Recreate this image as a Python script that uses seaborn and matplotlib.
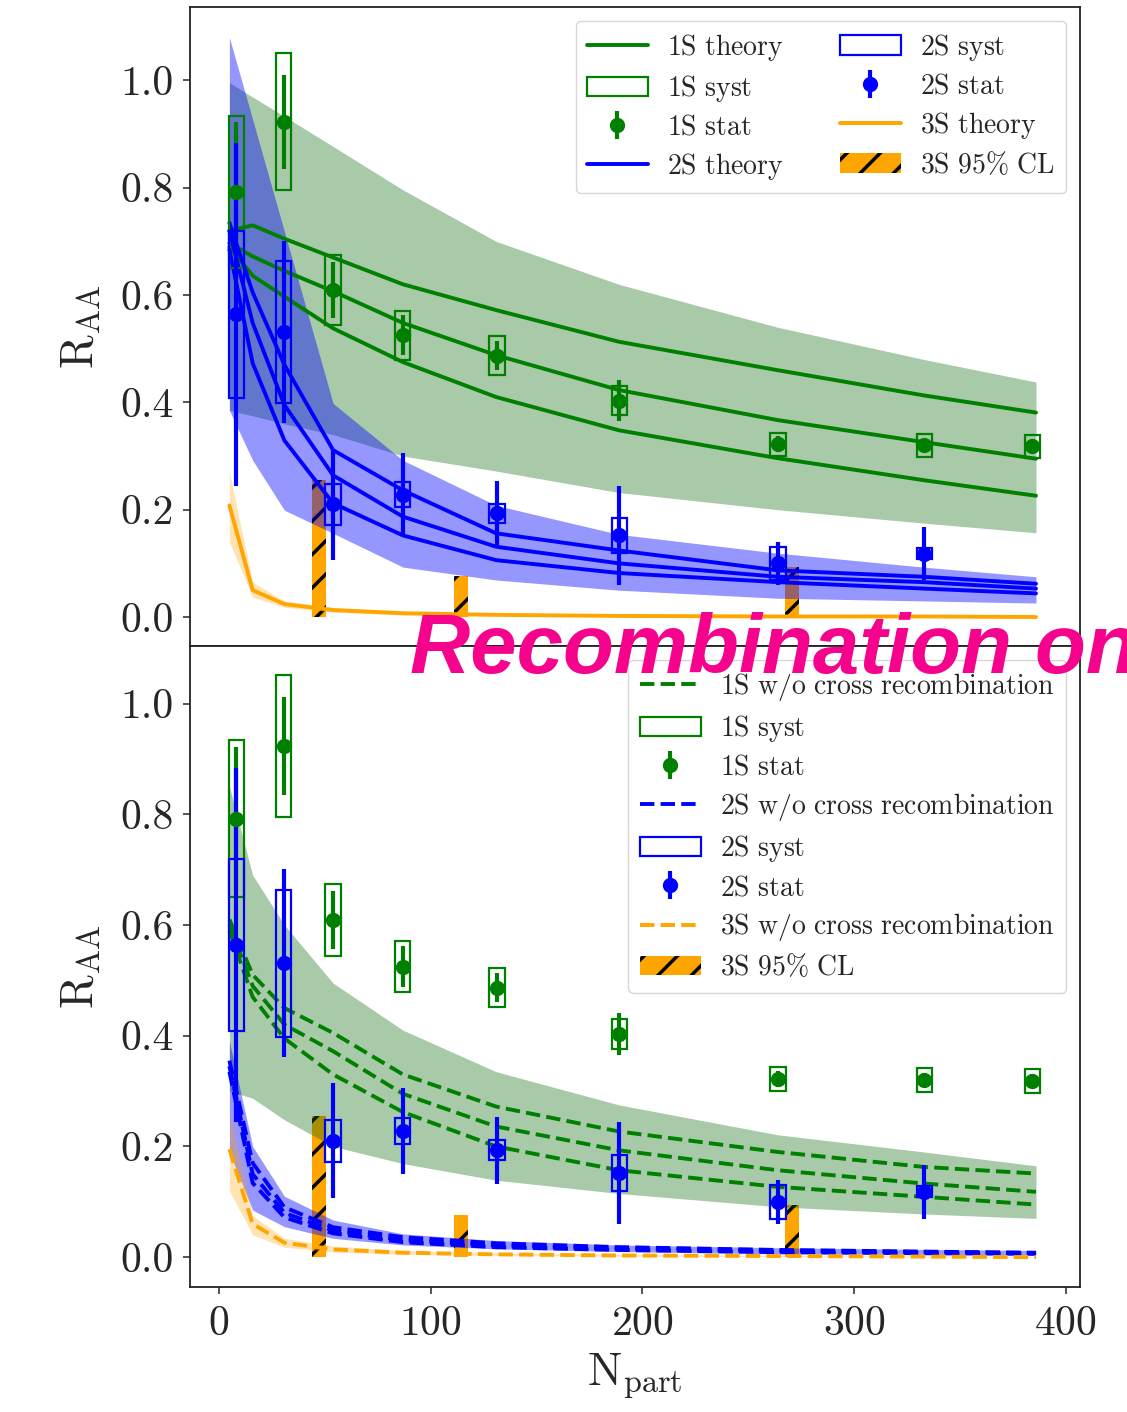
import numpy as np
import matplotlib
matplotlib.use("Agg")
import matplotlib.pyplot as plt
import seaborn as sns
from matplotlib.ticker import FormatStrFormatter, MultipleLocator
from matplotlib.lines import Line2D

sns.set_theme(style="ticks")
plt.rcParams["font.family"] = ["cmr10", "DejaVu Serif"]
plt.rcParams["mathtext.fontset"] = "cm"
plt.rcParams["axes.formatter.use_mathtext"] = True
plt.rcParams["hatch.linewidth"] = 2.5
plt.rcParams["axes.linewidth"] = 1.3
plt.rcParams["axes.edgecolor"] = "#222222"

# ---- measured nuclear modification factors -------------------------------
npart = [8.3, 30.6, 53.9, 86.9, 131.4, 189.2, 264.2, 333.3, 384.3]
raa_1s = [0.792, 0.923, 0.609, 0.525, 0.487, 0.403, 0.322, 0.320, 0.318]
stat_1s = [0.130, 0.088, 0.052, 0.037, 0.027, 0.038, 0.015, 0.012, 0.012]
syst_1s = [0.142, 0.128, 0.065, 0.046, 0.036, 0.027, 0.021, 0.022, 0.022]

npart_2s = [8.3, 30.6, 53.9, 86.9, 131.4, 189.2, 264.2, 333.3]
raa_2s = [0.564, 0.531, 0.210, 0.228, 0.193, 0.152, 0.100, 0.118]
stat_2s = [0.320, 0.170, 0.104, 0.077, 0.060, 0.092, 0.040, 0.049]
syst_2s = [0.155, 0.133, 0.038, 0.023, 0.018, 0.032, 0.031, 0.010]

# 3S upper limits (95% CL)
npart_3s = [47.3, 114.3, 270.6]
cl_3s = [0.255, 0.076, 0.094]

# ---- theory grid ----------------------------------------------------------
th_x = [5, 16, 31, 54, 87, 131, 189, 264, 333, 386]

# with cross recombination
th1s_a = [0.720, 0.730, 0.705, 0.670, 0.620, 0.572, 0.513, 0.460, 0.413, 0.381]
th1s_b = [0.697, 0.672, 0.645, 0.607, 0.548, 0.488, 0.423, 0.367, 0.326, 0.295]
th1s_c = [0.690, 0.636, 0.597, 0.538, 0.475, 0.410, 0.348, 0.296, 0.255, 0.226]
band1s_hi = [0.996, 0.969, 0.933, 0.877, 0.796, 0.700, 0.620, 0.540, 0.480, 0.438]
band1s_lo = [0.385, 0.375, 0.360, 0.340, 0.300, 0.272, 0.232, 0.200, 0.175, 0.157]

th2s_a = [0.735, 0.605, 0.470, 0.311, 0.236, 0.156, 0.124, 0.087, 0.075, 0.062]
th2s_b = [0.720, 0.548, 0.395, 0.264, 0.187, 0.131, 0.100, 0.075, 0.065, 0.053]
th2s_c = [0.685, 0.473, 0.329, 0.212, 0.152, 0.106, 0.082, 0.065, 0.053, 0.044]
band2s_hi = [1.080, 0.927, 0.718, 0.398, 0.292, 0.208, 0.154, 0.119, 0.093, 0.075]
band2s_lo = [0.385, 0.292, 0.199, 0.156, 0.093, 0.069, 0.050, 0.035, 0.030, 0.026]

th3s = [0.208, 0.050, 0.024, 0.013, 0.007, 0.004, 0.002, 0.001, 0.001, 0.000]
band3s_hi = [0.270, 0.065, 0.030, 0.018, 0.010, 0.006, 0.004, 0.002, 0.002, 0.001]
band3s_lo = [0.140, 0.037, 0.018, 0.009, 0.004, 0.002, 0.001, 0.000, 0.000, 0.000]

# without cross recombination
nc1s_a = [0.610, 0.510, 0.450, 0.405, 0.330, 0.272, 0.227, 0.190, 0.163, 0.151]
nc1s_b = [0.600, 0.490, 0.420, 0.372, 0.295, 0.236, 0.193, 0.157, 0.133, 0.118]
nc1s_c = [0.590, 0.470, 0.395, 0.330, 0.262, 0.200, 0.157, 0.127, 0.109, 0.095]
ncband1s_hi = [0.850, 0.690, 0.600, 0.495, 0.410, 0.335, 0.275, 0.221, 0.190, 0.165]
ncband1s_lo = [0.300, 0.287, 0.248, 0.200, 0.169, 0.139, 0.115, 0.091, 0.078, 0.070]

nc2s_a = [0.355, 0.170, 0.090, 0.054, 0.036, 0.025, 0.018, 0.013, 0.010, 0.008]
nc2s_b = [0.345, 0.150, 0.080, 0.048, 0.031, 0.021, 0.015, 0.011, 0.009, 0.007]
nc2s_c = [0.335, 0.134, 0.072, 0.043, 0.027, 0.018, 0.013, 0.009, 0.007, 0.006]
ncband2s_hi = [0.390, 0.200, 0.110, 0.067, 0.042, 0.030, 0.022, 0.017, 0.014, 0.012]
ncband2s_lo = [0.190, 0.085, 0.055, 0.034, 0.022, 0.015, 0.010, 0.006, 0.005, 0.004]

nc3s = [0.195, 0.060, 0.026, 0.014, 0.008, 0.005, 0.003, 0.002, 0.001, 0.000]
ncband3s_hi = [0.265, 0.075, 0.034, 0.020, 0.012, 0.008, 0.005, 0.003, 0.002, 0.001]
ncband3s_lo = [0.120, 0.040, 0.018, 0.009, 0.005, 0.003, 0.002, 0.001, 0.000, 0.000]

GREEN, BLUE, ORANGE = "#008000", "#0000ff", "#ffa500"
GREEN_BAND = "#006400"
LW = 2.8
BOXW = 7.2
LEG_FS = 20
LEG_KW = dict(fontsize=LEG_FS, labelspacing=0.37, handlelength=2.2, handletextpad=0.7)


def draw_data(ax):
    """Upper limits, systematic boxes and statistical error bars."""
    cl = ax.bar(npart_3s, cl_3s, width=6.7, color=ORANGE, edgecolor="black",
                hatch="/", linewidth=0, zorder=1)
    s1 = ax.bar(npart, 2 * np.array(syst_1s), bottom=np.array(raa_1s) - np.array(syst_1s),
                width=BOXW, fill=False, edgecolor=GREEN, linewidth=1.6, zorder=6)
    s2 = ax.bar(npart_2s, 2 * np.array(syst_2s), bottom=np.array(raa_2s) - np.array(syst_2s),
                width=BOXW, fill=False, edgecolor=BLUE, linewidth=1.6, zorder=6)
    e1 = ax.errorbar(npart, raa_1s, yerr=stat_1s, fmt="o", color=GREEN, ms=10,
                     elinewidth=3, capsize=0, zorder=7)
    e2 = ax.errorbar(npart_2s, raa_2s, yerr=stat_2s, fmt="o", color=BLUE, ms=10,
                     elinewidth=3, capsize=0, zorder=7)
    return cl, s1, s2, e1, e2


def draw_theory(ax, curves, lo, hi, color, band_color, alpha, ls):
    ax.fill_between(th_x, lo, hi, color=band_color, alpha=alpha, linewidth=0, zorder=2)
    for c in curves:
        sns.lineplot(x=th_x, y=c, ax=ax, color=color, lw=LW, linestyle=ls,
                     legend=False, zorder=3)


fig = plt.figure(figsize=(11.27, 14.12), dpi=100)
ax1 = fig.add_axes([0.1686, 0.5425, 0.7897, 0.4526])
ax2 = fig.add_axes([0.1686, 0.0885, 0.7897, 0.4540], sharex=ax1)

# ---- upper panel: recombination included ---------------------------------
cl, s1, s2, e1, e2 = draw_data(ax1)
draw_theory(ax1, [th1s_a, th1s_b, th1s_c], band1s_lo, band1s_hi, GREEN, GREEN_BAND, 0.34, "-")
draw_theory(ax1, [th2s_a, th2s_b, th2s_c], band2s_lo, band2s_hi, BLUE, BLUE, 0.41, "-")
draw_theory(ax1, [th3s], band3s_lo, band3s_hi, ORANGE, ORANGE, 0.30, "-")

h = [Line2D([], [], color=GREEN, lw=LW), s1, e1, Line2D([], [], color=BLUE, lw=LW),
     s2, e2, Line2D([], [], color=ORANGE, lw=LW), cl]
lab = [r"$\mathrm{1S\ theory}$", r"$\mathrm{1S\ syst}$", r"$\mathrm{1S\ stat}$",
       r"$\mathrm{2S\ theory}$", r"$\mathrm{2S\ syst}$", r"$\mathrm{2S\ stat}$",
       r"$\mathrm{3S\ theory}$", r"$\mathrm{3S\ 95\%\ CL}$"]
ax1.legend(h, lab, ncol=2, loc="upper right", columnspacing=2.0, **LEG_KW)

# ---- lower panel: without cross recombination ------------------------------
cl, s1, s2, e1, e2 = draw_data(ax2)
draw_theory(ax2, [nc1s_a, nc1s_b, nc1s_c], ncband1s_lo, ncband1s_hi, GREEN, GREEN_BAND, 0.34, "--")
draw_theory(ax2, [nc2s_a, nc2s_b, nc2s_c], ncband2s_lo, ncband2s_hi, BLUE, BLUE, 0.41, "--")
draw_theory(ax2, [nc3s], ncband3s_lo, ncband3s_hi, ORANGE, ORANGE, 0.30, "--")

h = [Line2D([], [], color=GREEN, lw=LW, ls="--"), s1, e1,
     Line2D([], [], color=BLUE, lw=LW, ls="--"), s2, e2,
     Line2D([], [], color=ORANGE, lw=LW, ls="--"), cl]
lab = [r"$\mathrm{1S\ w/o\ cross\ recombination}$", r"$\mathrm{1S\ syst}$",
       r"$\mathrm{1S\ stat}$", r"$\mathrm{2S\ w/o\ cross\ recombination}$",
       r"$\mathrm{2S\ syst}$", r"$\mathrm{2S\ stat}$",
       r"$\mathrm{3S\ w/o\ cross\ recombination}$", r"$\mathrm{3S\ 95\%\ CL}$"]
ax2.legend(h, lab, ncol=1, loc="upper right", **LEG_KW)

# ---- axes cosmetics -------------------------------------------------------
ax1.set_xlim(-13.6, 406.8)
ax1.set_ylim(-0.054, 1.137)
ax2.set_ylim(-0.054, 1.104)
for ax in (ax1, ax2):
    ax.yaxis.set_major_locator(MultipleLocator(0.2))
    ax.yaxis.set_major_formatter(FormatStrFormatter("%.1f"))
    ax.tick_params(axis="y", labelsize=30, length=5, width=1.1, pad=7)
    ax.set_ylabel(r"$\mathrm{R_{AA}}$", fontsize=33, labelpad=12)
    for s in ax.spines.values():
        s.set_visible(True)
ax1.tick_params(axis="x", labelbottom=False, length=0)
ax2.xaxis.set_major_locator(MultipleLocator(100))
ax2.tick_params(axis="x", labelsize=30, length=5, width=1.1, pad=8)
ax2.set_xlabel(r"$\mathrm{N_{part}}$", fontsize=33, labelpad=6)

fig.text(0.3638, 0.5234, "Recombination on", fontsize=60, fontweight="bold",
         fontstyle="italic", color="#f5038c", family="Liberation Sans",
         ha="left", va="baseline", zorder=20)

fig.savefig("out.png", dpi=100)
